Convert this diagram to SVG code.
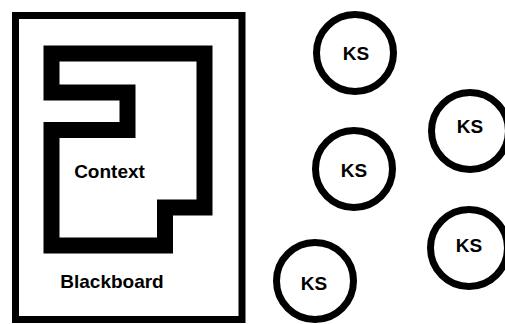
<svg xmlns="http://www.w3.org/2000/svg" width="505" height="324" viewBox="0 0 505 324">
<style>
.lbl{font-family:"Liberation Sans",Arial,sans-serif;font-weight:bold;font-size:19px;fill:#000;text-anchor:middle}
.ks circle{fill:#fff;stroke:#000;stroke-width:7}
</style>
<rect width="505" height="324" fill="#fff"/>
<g id="blackboard">
<rect x="15.5" y="15.5" width="226.5" height="304" fill="none" stroke="#000" stroke-width="7"/>
<text class="lbl" x="112" y="288" font-size="20">Blackboard</text>
</g>
<g id="context">
<path d="M51.5 53.5 H204.5 V207.5 H165 V245.5 H51.5 V130 H127.5 V92.5 H51.5 Z" fill="none" stroke="#000" stroke-width="16" stroke-linejoin="miter"/>
<text class="lbl" x="109.5" y="178">Context</text>
</g>
<g id="connectors"></g>
<g id="ks1" class="ks"><circle cx="355" cy="53" r="38.5"/><text class="lbl" x="356" y="60">KS</text></g>
<g id="ks2" class="ks"><circle cx="470" cy="131" r="38.5"/><text class="lbl" x="470" y="133">KS</text></g>
<g id="ks3" class="ks"><circle cx="354" cy="169" r="38.5"/><text class="lbl" x="354" y="177">KS</text></g>
<g id="ks4" class="ks"><circle cx="469" cy="248" r="38.5"/><text class="lbl" x="469" y="252">KS</text></g>
<g id="ks5" class="ks"><circle cx="315" cy="281" r="38.5"/><text class="lbl" x="314" y="290">KS</text></g>
</svg>
